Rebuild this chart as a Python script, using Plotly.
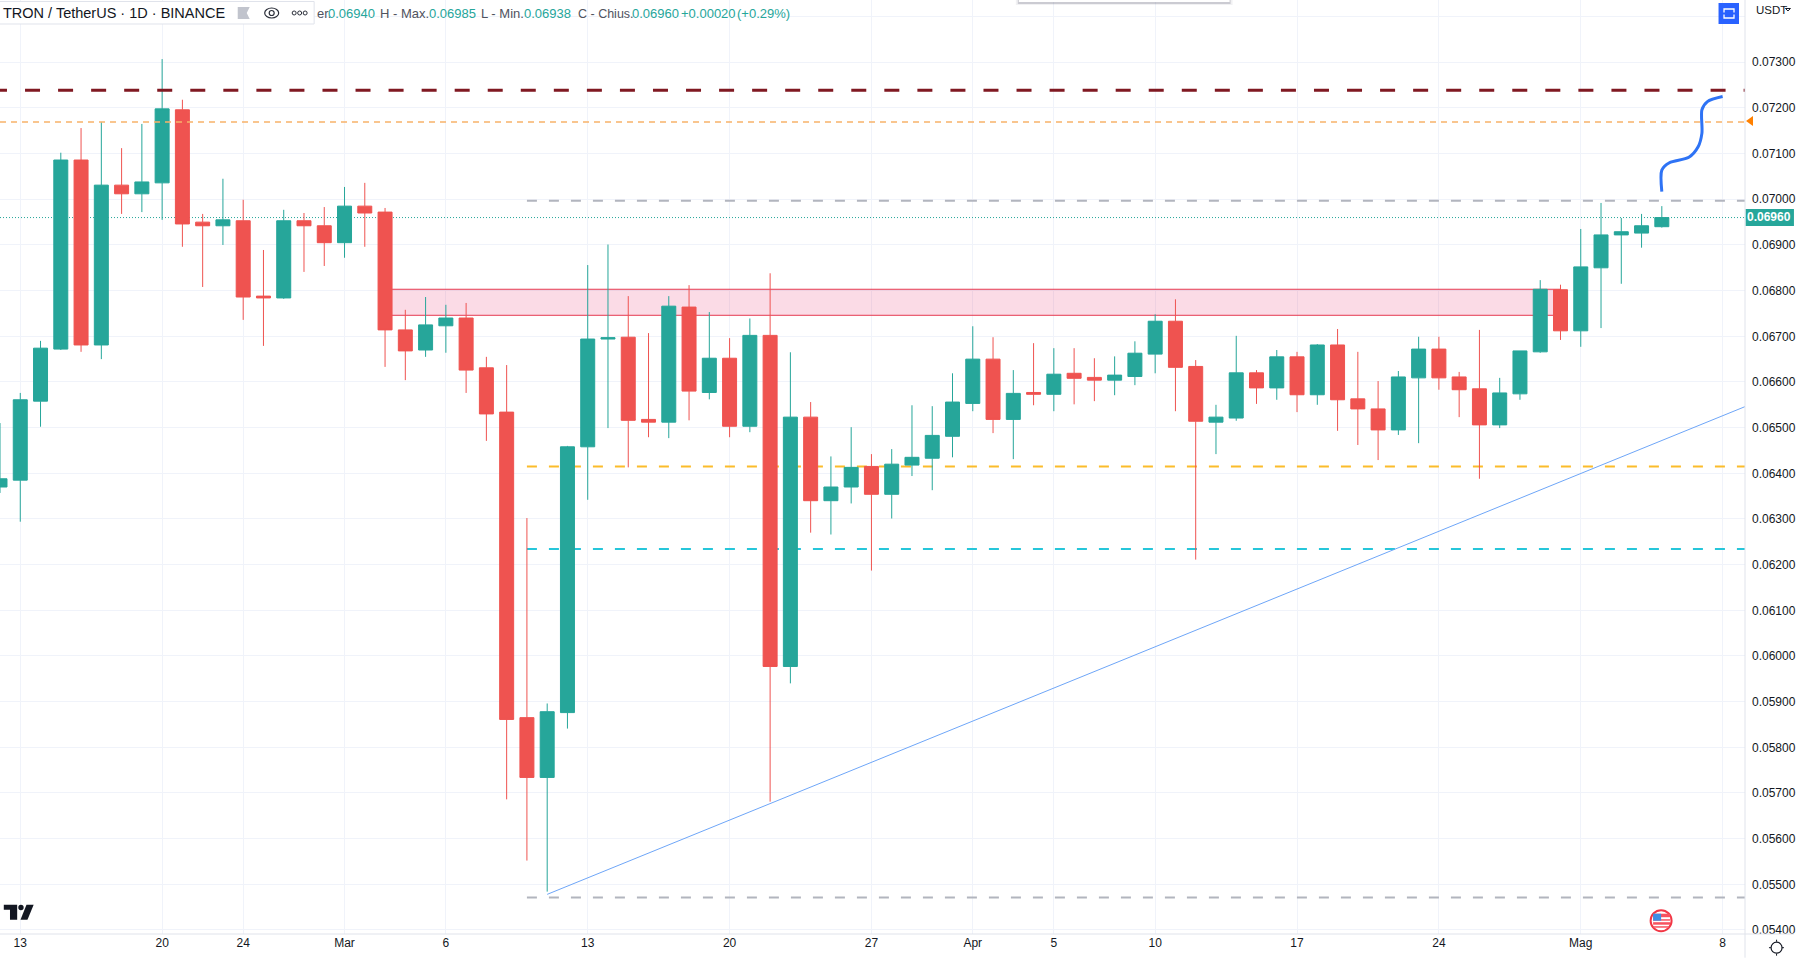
import pandas as pd
import plotly.graph_objects as go

# daily candles, 12 Feb - 5 May
dates = pd.date_range("2023-02-12", "2023-05-05", freq="D")
opens = [.06370,.06385,.06558,.06672,.07086,.06681,.07031,.07012,.07036,.07196,.06950,.06942,.06953,.06788,.06784,.06953,.06942,
         .06905,.06985,.06972,.06714,.06670,.06723,.06740,.06631,.06534,.05865,.05734,.05876,.06458,.06694,.06698,.06518,.06512,.06764,.06577,.06652,.06503,.06702,.05977,.06523,.06340,.06370,.06415,.06354,.06418,.06433,.06481,
         .06553,.06650,.06518,.06577,.06573,.06619,.06610,.06604,.06612,.06661,.06733,.06634,.06512,.06521,.06620,.06587,.06655,.06572,.06681,.06563,.06541,.06495,.06609,.06672,.06611,.06585,.06506,.06574,.06666,.06802,
         .06712,.06850,.06922,.06926,.06940]
highs = [.06510,.06576,.06690,.07102,.07156,.07169,.07112,.07165,.07307,.07218,.06968,.07045,.06999,.06889,.06977,.06970,.06983,
         .07027,.07036,.06981,.06758,.06786,.06769,.06773,.06655,.06637,.06302,.05896,.06460,.06856,.06901,.06788,.06707,.06788,.06812,.06753,.06696,.06739,.06838,.06665,.06556,.06437,.06501,.06442,.06453,.06549,.06547,.06619,
         .06722,.06698,.06626,.06685,.06674,.06674,.06652,.06656,.06689,.06748,.06781,.06648,.06550,.06701,.06626,.06670,.06666,.06683,.06716,.06666,.06602,.06624,.06699,.06699,.06622,.06714,.06609,.06668,.06823,.06813,
         .06935,.06992,.06959,.06968,.06985]
lows = [.06357,.06294,.06502,.06670,.06666,.06650,.06968,.06972,.06955,.06896,.06808,.06900,.06736,.06679,.06782,.06841,.06854,
        .06872,.06896,.06633,.06604,.06655,.06664,.06576,.06471,.05686,.05552,.05484,.05841,.06342,.06499,.06413,.06479,.06477,.06516,.06562,.06479,.06490,.05681,.05940,.06270,.06266,.06334,.06187,.06301,.06394,.06363,.06435,
        .06536,.06488,.06431,.06549,.06536,.06551,.06558,.06571,.06593,.06619,.06536,.06211,.06442,.06515,.06552,.06561,.06534,.06550,.06493,.06462,.06429,.06484,.06466,.06583,.06523,.06388,.06499,.06561,.06664,.06692,
        .06677,.06718,.06815,.06894,.06938]
closes = [.06388,.06561,.06674,.07086,.06681,.07031,.07012,.07038,.07198,.06946,.06942,.06955,.06786,.06784,.06953,.06942,.06905,
          .06985,.06970,.06714,.06668,.06725,.06740,.06626,.06530,.05861,.05734,.05878,.06458,.06694,.06697,.06516,.06512,.06766,.06580,.06652,.06503,.06702,.05977,.06523,.06340,.06370,.06413,.06354,.06420,.06435,.06483,.06556,
          .06650,.06518,.06575,.06573,.06617,.06608,.06604,.06615,.06663,.06733,.06632,.06514,.06523,.06620,.06587,.06655,.06572,.06681,.06561,.06541,.06495,.06611,.06672,.06609,.06583,.06506,.06576,.06668,.06803,.06712,
          .06852,.06922,.06929,.06942,.06960]

# x axis
x_start = "2023-02-12 00:00"
x_end = "2023-05-09 02:30"
x_tickvals = ["2023-02-13", "2023-02-20", "2023-02-24", "2023-03-01", "2023-03-06", "2023-03-13", "2023-03-20", "2023-03-27",
              "2023-04-01", "2023-04-05", "2023-04-10", "2023-04-17", "2023-04-24", "2023-05-01", "2023-05-08"]
x_ticktext = ["13", "20", "24", "Mar", "6", "13", "20", "27", "Apr", "5", "10", "17", "24", "Mag", "8"]

# y axis
y_tickvals = [.054, .055, .056, .057, .058, .059, .060, .061, .062, .063, .064, .065, .066, .067, .068, .069, .070, .071, .072, .073, .074]
y_ticktext = ["0.05400", "0.05500", "0.05600", "0.05700", "0.05800", "0.05900", "0.06000", "0.06100", "0.06200", "0.06300",
              "0.06400", "0.06500", "0.06600", "0.06700", "0.06800", "0.06900", "0.07000", "0.07100", "0.07200", "0.07300", ""]

# drawn levels
res_dark = 0.07239
res_orange = 0.07169
last_price = 0.06960
level_gray_top = 0.06997
level_orange = 0.06415
level_cyan = 0.06234
level_gray_low = 0.05471
levels_from = "2023-03-10"
res_dark_from = "2023-02-11 14:30"  # starts off screen, keeps the dash phase
zone_top = 0.06803
zone_bottom = 0.06746
zone_from = "2023-03-03"
zone_to = "2023-04-30"

# trendline and the hand drawn path
trend_x = ["2023-03-11", x_end]
trend_y = [0.05478, 0.06546]
brush_x = ["2023-05-05 00:00", "2023-05-05 00:00", "2023-05-05 09:00", "2023-05-06 08:00", "2023-05-06 19:00",
           "2023-05-06 23:30", "2023-05-06 23:30", "2023-05-07 06:00", "2023-05-08 00:00"]
brush_y = [0.07017, 0.07064, 0.07080, 0.07092, 0.07115, 0.07145, 0.07196, 0.07214, 0.07225]

GREEN = "#26a69a"
RED = "#ef5350"
TEXT = "#131722"
GRID = "#f0f3fa"
BORDER = "#e0e3eb"
FONT = "Liberation Sans"

PLOT_W = 1747.0
PLOT_H = 934.3


def px(x):
    return x / PLOT_W


def py(y):
    return 1 - y / PLOT_H


def poly(points, fill=None, line=None, width=1):
    path = "M " + " L ".join(f"{px(a)} {py(b)}" for a, b in points) + " Z"
    return dict(type="path", xref="paper", yref="paper", path=path, fillcolor=fill or "rgba(0,0,0,0)",
                line=dict(color=line or "rgba(0,0,0,0)", width=width), layer="above")


def box(x0, y0, x1, y1, fill=None, line=None, width=1):
    return dict(type="rect", xref="paper", yref="paper", x0=px(x0), y0=py(y0), x1=px(x1), y1=py(y1),
                fillcolor=fill or "rgba(0,0,0,0)", line=dict(color=line or "rgba(0,0,0,0)", width=width), layer="above")


def oval(cx, cy, rx, ry, fill=None, line=None, width=1):
    return dict(type="circle", xref="paper", yref="paper", x0=px(cx - rx), y0=py(cy - ry), x1=px(cx + rx), y1=py(cy + ry),
                fillcolor=fill or "rgba(0,0,0,0)", line=dict(color=line or "rgba(0,0,0,0)", width=width), layer="above")


def seg(x0, y0, x1, y1, color, width=1):
    return dict(type="line", xref="paper", yref="paper", x0=px(x0), y0=py(y0), x1=px(x1), y1=py(y1),
                line=dict(color=color, width=width), layer="above")


def level(y, color, width, dash, x0=x_start, layer="between"):
    return dict(type="line", xref="x", yref="y", x0=x0, x1=x_end, y0=y, y1=y,
                line=dict(color=color, width=width, dash=dash), layer=layer)


def label(x, y, text, color=TEXT, size=13, anchor="left", bold=False):
    return dict(xref="paper", yref="paper", x=px(x), y=py(y), text=f"<b>{text}</b>" if bold else text, showarrow=False,
                xanchor=anchor, yanchor="middle", borderpad=0, font=dict(family=FONT, size=size, color=color))


fig = go.Figure()
fig.add_trace(go.Candlestick(
    x=dates, open=opens, high=highs, low=lows, close=closes, whiskerwidth=0,
    increasing=dict(line=dict(color=GREEN, width=1), fillcolor=GREEN),
    decreasing=dict(line=dict(color=RED, width=1), fillcolor=RED),
    showlegend=False))
fig.add_trace(go.Scatter(x=trend_x, y=trend_y, mode="lines", line=dict(color="#6ea6f8", width=1), showlegend=False))
fig.add_trace(go.Scatter(x=brush_x, y=brush_y, mode="lines", line=dict(color="#2e73f5", width=3, shape="spline", smoothing=0.8),
                         showlegend=False))

shapes = [
    dict(type="rect", xref="x", yref="y", x0=zone_from, x1=zone_to, y0=zone_bottom, y1=zone_top,
         fillcolor="rgba(233,30,99,0.16)", line=dict(color="#e53950", width=1), layer="between"),
    level(last_price, GREEN, 1, "1px,2px"),
    level(level_gray_top, "#b2b5be", 2, "10px,12px", levels_from),
    level(level_orange, "#fbbc2a", 2, "10px,12px", levels_from),
    level(level_cyan, "#26c6da", 2, "10px,12px", levels_from),
    level(level_gray_low, "#b2b5be", 2, "10px,12px", levels_from),
    level(res_dark, "#801922", 3, "15px,18.05px", x0=res_dark_from, layer="above"),
    level(res_orange, "#f8b26a", 1.5, "6px,5px", layer="above"),

    # popup sticking in from the top
    box(1017, -2, 1234, 5, fill="rgba(120,120,140,0.10)"),
    box(1019, -2, 1232, 4, fill="rgba(90,90,110,0.25)"),
    box(1020, -2, 1231, 2, fill="#ffffff"),

    # symbol legend box
    box(-3, 1.5, 314.5, 24, fill="#ffffff", line=BORDER),
    poly([(238, 7), (250, 7), (247, 13), (250, 19), (238, 19)], fill="#c1c4cd"),
    oval(272, 13, 7, 5, line="#2a2e39", width=1.2),
    oval(272, 13, 2.5, 2.5, line="#2a2e39", width=1.2),
    oval(294.5, 13, 2, 2, line="#2a2e39"),
    oval(300, 13, 2, 2, line="#2a2e39"),
    oval(305.5, 13, 2, 2, line="#2a2e39"),

    # tv logo
    poly([(3.8, 905), (17.2, 905), (17.2, 920), (10, 920), (10, 910), (3.8, 910)], fill=TEXT),
    oval(21, 907.8, 2.7, 2.7, fill=TEXT),
    poly([(33.7, 905), (26.5, 905), (20.5, 920), (27.5, 920)], fill=TEXT),

    # right side widgets
    box(1720.5, 3, 1741, 24, fill="#2962ff"),
    box(1726, 9, 1736, 18, line="#ffffff", width=1.3),
    seg(1725, 13.5, 1737, 13.5, "#2962ff", 2),
    poly([(1748, 121), (1755, 116), (1755, 126)], fill="#ff8000"),
    box(1747.5, 209, 1796, 226, fill=GREEN),
    poly([(1787.5, 8.5), (1790, 11), (1792.5, 8.5)], line=TEXT),

    # hide the part of the lowest price label under the time axis
    box(1748, 934.5, 1796, 941, fill="#ffffff"),
    seg(0, 934.3, 1796, 934.3, BORDER),
    seg(1747, 0, 1747, 958, BORDER),

    # economic event flag
    oval(1663, 921, 10.5, 10.5, fill="#ffffff", line="#f23645", width=2),
    box(1655, 914, 1672, 925, fill="#f7525f"),
    box(1655, 926.5, 1671, 928, fill="#f7525f"),
    box(1661, 917.5, 1672, 919.5, fill="#ffffff"),
    box(1655, 921, 1672, 922.5, fill="#ffffff"),
    box(1655, 914, 1663, 921, fill="#3d8ee6"),

    # settings icon
    oval(1778.6, 948, 5.5, 5.5, line=TEXT, width=1.2),
    seg(1778.6, 940, 1778.6, 942, TEXT),
    seg(1778.6, 954, 1778.6, 956, TEXT),
    seg(1771, 948, 1773, 948, TEXT),
    seg(1784, 948, 1786, 948, TEXT),
]

annotations = [
    label(2, 13, "TRON / TetherUS · 1D · BINANCE", size=14.5),
    label(316, 14, "er.", "#50535e"),
    label(327, 14, "0.06940", GREEN),
    label(379, 14, "H - Max.", "#50535e"),
    label(428, 14, "0.06985", GREEN),
    label(481, 14, "L - Min.", "#50535e"),
    label(524, 14, "0.06938", GREEN),
    label(578, 14, "C - Chius.", "#50535e", size=12.5),
    label(632, 14, "0.06960", GREEN),
    label(681, 14, "+0.00020", GREEN),
    label(737, 14, "(+0.29%)", GREEN),
    label(1757, 10, "USDT", size=11.5),
    label(1771.5, 217.5, "0.06960", "#ffffff", size=12, anchor="center", bold=True),
]

fig.update_layout(
    width=1796, height=958,
    margin=dict(l=0, r=49, t=0, b=23.7),
    paper_bgcolor="#ffffff", plot_bgcolor="#ffffff",
    font=dict(family=FONT, size=12, color=TEXT),
    boxgap=0.31, boxgroupgap=0,
    shapes=shapes, annotations=annotations,
    xaxis=dict(type="date", range=[x_start, x_end], rangeslider=dict(visible=False),
               tickmode="array", tickvals=x_tickvals, ticktext=x_ticktext, ticks="", showline=False,
               gridcolor=GRID, gridwidth=1, zeroline=False),
    yaxis=dict(side="right", range=[0.053912, 0.074364], tickmode="array", tickvals=y_tickvals, ticktext=y_ticktext,
               ticks="", showline=False, gridcolor=GRID, gridwidth=1, zeroline=False, ticklabelstandoff=6),
)

# page body has a default margin, drop it so the figure fills the window
fig.write_html("out.html", config={"displayModeBar": False}, post_script="document.body.style.margin='0';")
